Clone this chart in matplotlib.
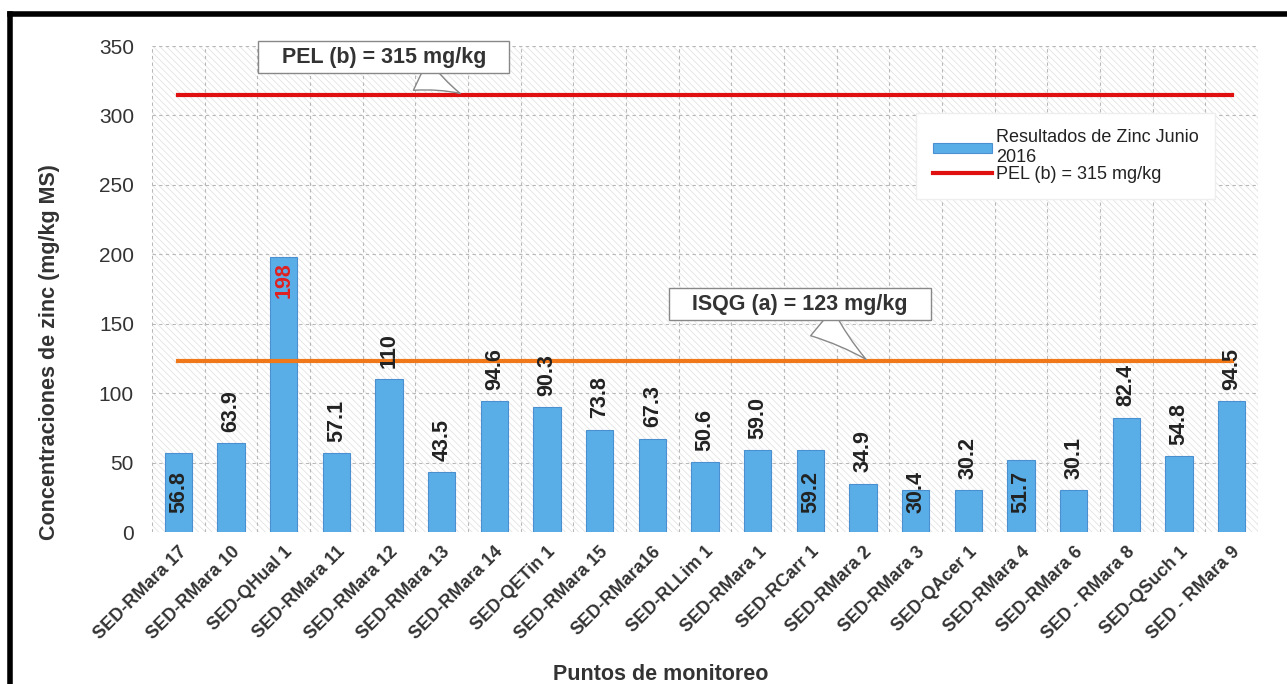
import matplotlib
matplotlib.use('Agg')
import matplotlib.pyplot as plt
from matplotlib.patches import Rectangle
from matplotlib.lines import Line2D
import numpy as np

plt.rcParams['font.family'] = ['Liberation Sans', 'DejaVu Sans']
plt.rcParams['hatch.linewidth'] = 0.5

# data
puntos = ['SED-RMara 17', 'SED-RMara 10', 'SED-QHual 1', 'SED-RMara 11', 'SED-RMara 12',
          'SED-RMara 13', 'SED-RMara 14', 'SED-QETin 1', 'SED-RMara 15', 'SED-RMara16',
          'SED-RLLim 1', 'SED-RMara 1', 'SED-RCarr 1', 'SED-RMara 2', 'SED-RMara 3',
          'SED-QAcer 1', 'SED-RMara 4', 'SED-RMara 6', 'SED - RMara 8', 'SED-QSuch 1',
          'SED - RMara 9']
zinc = [56.8, 63.9, 198, 57.1, 110, 43.5, 94.6, 90.3, 73.8, 67.3, 50.6, 59.0,
        59.2, 34.9, 30.4, 30.2, 51.7, 30.1, 82.4, 54.8, 94.5]
etiquetas = ['56.8', '63.9', '198', '57.1', '110', '43.5', '94.6', '90.3', '73.8', '67.3',
             '50.6', '59.0', '59.2', '34.9', '30.4', '30.2', '51.7', '30.1', '82.4', '54.8', '94.5']
# labels drawn inside the bar
dentro = ['SED-RMara 17', 'SED-QHual 1', 'SED-RCarr 1', 'SED-RMara 3', 'SED-RMara 4']
pel = 315
isqg = 123

fig = plt.figure(figsize=(12.87, 6.84), dpi=100)
ax = fig.add_axes([0.1181, 0.2222, 0.8594, 0.7105])

x = np.arange(len(puntos))
ax.set_xlim(-0.5, len(puntos) - 0.5)
ax.set_ylim(0, 350)

# hatched background
bg = Rectangle((0, 0), 1, 1, transform=ax.transAxes, facecolor='white',
               edgecolor='#dedede', hatch='\\\\\\\\\\', linewidth=0, zorder=0)
ax.add_patch(bg)

# grid
for xv in np.arange(-0.5, len(puntos), 1.0):
    ax.axvline(xv, color='#b8b8b8', lw=0.8, ls=(0, (3, 3)), zorder=1)
for yv in range(50, 351, 50):
    ax.axhline(yv, color='#b8b8b8', lw=0.8, ls=(0, (3, 3)), zorder=1)

bars = ax.bar(x, zinc, width=0.52, color='#5aaee8', edgecolor='#4a90d0', linewidth=0.8,
              zorder=3, label='Resultados de Zinc Junio\n2016')

# reference lines
linea_pel, = ax.plot([x[0], x[-1]], [pel, pel], color='#e01010', lw=3, zorder=4,
                     label='PEL (b) = 315 mg/kg')
ax.plot([x[0], x[-1]], [isqg, isqg], color='#f07818', lw=3, zorder=4)

# bar value labels
for xi, v, lab, p in zip(x, zinc, etiquetas, puntos):
    if p in dentro:
        if v > 150:
            ax.text(xi, v - 4, lab, rotation=90, ha='center', va='top', fontsize=15.5,
                    fontweight='bold', color='#e02020', zorder=5)
        else:
            ax.text(xi, 14, lab, rotation=90, ha='center', va='bottom', fontsize=15.5,
                    fontweight='bold', color='#222222', zorder=5)
    else:
        ax.annotate(lab, (xi, v), xytext=(0, 8), textcoords='offset points', rotation=90,
                    ha='center', va='bottom', fontsize=15.5, fontweight='bold', color='#222222',
                    zorder=5)

# callouts
callout_box = dict(boxstyle='square,pad=0.25', fc='white', ec='#888888', lw=1)
wedge = dict(arrowstyle='wedge,tail_width=1.6,shrink_factor=0.4', fc='white',
             ec='#888888', lw=1)
ax.annotate('   PEL (b) = 315 mg/kg   ', xy=(5.4, pel), xytext=(3.9, 342), fontsize=15.5,
            fontweight='bold', color='#333333', ha='center', va='center', bbox=callout_box,
            arrowprops=wedge, zorder=6)
ax.annotate('   ISQG (a) = 123 mg/kg   ', xy=(13.1, isqg), xytext=(11.8, 164), fontsize=15.5,
            fontweight='bold', color='#333333', ha='center', va='center', bbox=callout_box,
            arrowprops=wedge, zorder=6)

leg = ax.legend([bars, linea_pel], ['Resultados de Zinc Junio\n2016', 'PEL (b) = 315 mg/kg'],
                loc='upper right', bbox_to_anchor=(0.961, 0.862), fontsize=13,
                frameon=True, fancybox=False, edgecolor='#eeeeee', framealpha=1,
                borderpad=0.9, handlelength=3.3, handleheight=0.5, handletextpad=0.2,
                labelspacing=0.0, borderaxespad=0)
leg.set_zorder(7)
for t in leg.get_texts():
    t.set_color('#222222')

ax.set_xticks(x)
ax.set_xticklabels(puntos, rotation=45, ha='right', rotation_mode='anchor',
                   fontsize=13, fontweight='bold', color='#333333')
ax.set_yticks(range(0, 351, 50))
ax.tick_params(axis='y', labelsize=15, labelcolor='#333333', length=0, pad=13)
ax.tick_params(axis='x', length=0, pad=8)
for s in ax.spines.values():
    s.set_visible(False)

ax.set_ylabel('Concentraciones de zinc (mg/kg MS)', fontsize=15.5, fontweight='bold',
              color='#333333')
ax.yaxis.set_label_coords(-0.083, 0.37)
fig.text(0.513, -0.002, 'Puntos de monitoreo', fontsize=15.5, fontweight='bold',
         color='#333333', ha='center', va='bottom')

# black scan frame (top and left only)
fig.add_artist(Line2D([0.0078, 1.0], [0.9795, 0.9795], color='black', lw=4,
                      transform=fig.transFigure))
fig.add_artist(Line2D([0.0078, 0.0078], [0.0, 0.9795], color='black', lw=4,
                      transform=fig.transFigure))

fig.savefig('out.png', dpi=100)
